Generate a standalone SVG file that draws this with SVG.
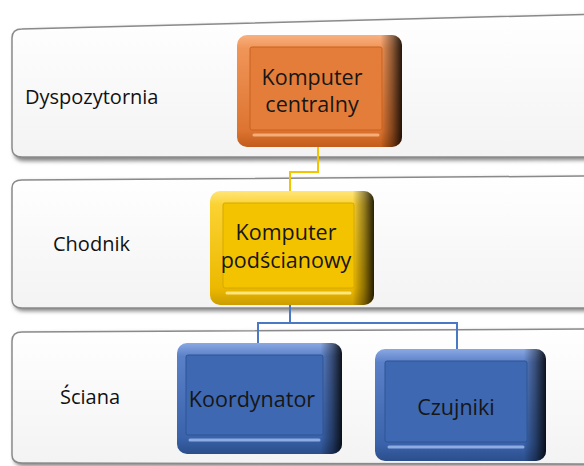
<svg xmlns="http://www.w3.org/2000/svg" width="584" height="466" viewBox="0 0 584 466">
<defs>
<linearGradient id="bandG" x1="0" y1="0" x2="0" y2="1">
<stop offset="0" stop-color="#ffffff"/>
<stop offset="1" stop-color="#f3f3f3"/>
</linearGradient>
<linearGradient id="orOut" x1="0" y1="0" x2="0" y2="1">
<stop offset="0" stop-color="#f8b080"/>
<stop offset="0.12" stop-color="#f09558"/>
<stop offset="0.85" stop-color="#dd7431"/>
<stop offset="1" stop-color="#c25c1c"/>
</linearGradient>
<linearGradient id="yeOut" x1="0" y1="0" x2="0" y2="1">
<stop offset="0" stop-color="#ffe57a"/>
<stop offset="0.12" stop-color="#fbd232"/>
<stop offset="0.85" stop-color="#ecb900"/>
<stop offset="1" stop-color="#cc9d00"/>
</linearGradient>
<linearGradient id="blOut" x1="0" y1="0" x2="0" y2="1">
<stop offset="0" stop-color="#8aa8e2"/>
<stop offset="0.12" stop-color="#5a80c8"/>
<stop offset="0.85" stop-color="#3a63ab"/>
<stop offset="1" stop-color="#2b4e8b"/>
</linearGradient>
<linearGradient id="rDark" x1="0" y1="0" x2="1" y2="0">
<stop offset="0" stop-color="#000" stop-opacity="0"/>
<stop offset="0.87" stop-color="#000" stop-opacity="0"/>
<stop offset="0.94" stop-color="#000" stop-opacity="0.4"/>
<stop offset="1" stop-color="#000" stop-opacity="0.85"/>
</linearGradient>
<filter id="sh" x="-10%" y="-10%" width="130%" height="130%">
<feGaussianBlur stdDeviation="2"/>
</filter>
</defs>
<style>
.band{fill:url(#bandG);stroke:#8a8a8a;stroke-width:1.5}
.bandsh{fill:#7f7f7f;filter:url(#sh)}
.lbl{font-family:"Open Sans","Liberation Sans",sans-serif;font-size:20px;fill:#111}
.nt{font-family:"Open Sans","Liberation Sans",sans-serif;font-size:21.5px;fill:#161616;text-anchor:middle}
.rd{fill:url(#rDark)}
.orIn{fill:#e57d3a;stroke:#c9631f;stroke-width:1}
.yeIn{fill:#f4c300;stroke:#d6a800;stroke-width:1}
.blIn{fill:#3e68b2;stroke:#2e5495;stroke-width:1}
.hl{stroke-width:3;fill:none;stroke-linecap:round}
.conY{fill:none;stroke:#f2c500;stroke-width:2}
.conB{fill:none;stroke:#4a78c2;stroke-width:2}
</style>

<g id="band-dyspozytornia">
<path class="bandsh" d="M14 40 Q14 31 24 31 L600 16 L600 160 L24 161 Q14 161 14 152 Z"/>
<path class="band" d="M12 38 Q12 29 22 29 L600 14 L600 157 L22 157 Q12 157 12 148 Z"/>
<text class="lbl" x="25" y="104">Dyspozytornia</text>
</g>
<g id="band-chodnik">
<path class="bandsh" d="M14 190 Q14 182 24 182 L600 178 L600 311 L24 311 Q14 311 14 302 Z"/>
<path class="band" d="M12 188 Q12 180 22 180 L600 176 L600 308 L22 308 Q12 308 12 299 Z"/>
<text class="lbl" x="53" y="251">Chodnik</text>
</g>
<g id="band-sciana">
<path class="bandsh" d="M14 343 Q14 334 24 334 L600 331 L600 466 L24 466 Q14 466 14 458 Z"/>
<path class="band" d="M12 341 Q12 332 22 332 L600 329 L600 464 L22 463 Q12 463 12 455 Z"/>
<text class="lbl" x="60" y="404">Ściana</text>
</g>

<g id="connectors">
<path class="conY" d="M318 147 V172 H290 V192"/>
<path class="conB" d="M290 305 V323 M258 345 V323 H457 V350"/>
</g>

<g id="node-komputer-centralny">
<rect x="237" y="35" width="165" height="112" rx="10" fill="url(#orOut)"/>
<rect class="rd" x="237" y="35" width="165" height="112" rx="10"/>
<rect class="orIn" x="250" y="47" width="132" height="83" rx="2"/>
<path class="hl" stroke="#f6ad78" d="M254 135 H378"/>
<text class="nt" x="312" y="85">Komputer</text>
<text class="nt" x="312" y="112">centralny</text>
</g>
<g id="node-komputer-podscianowy">
<rect x="210" y="191" width="164" height="114" rx="10" fill="url(#yeOut)"/>
<rect class="rd" x="210" y="191" width="164" height="114" rx="10"/>
<rect class="yeIn" x="223" y="203" width="131" height="85" rx="2"/>
<path class="hl" stroke="#ffe57a" d="M227 293 H350"/>
<text class="nt" x="286" y="240">Komputer</text>
<text class="nt" x="286" y="268">podścianowy</text>
</g>
<g id="node-koordynator">
<rect x="177" y="343" width="165" height="111" rx="10" fill="url(#blOut)"/>
<rect class="rd" x="177" y="343" width="165" height="111" rx="10"/>
<rect class="blIn" x="186" y="355" width="137" height="80" rx="2"/>
<path class="hl" stroke="#8eabe2" d="M190 440 H319"/>
<text class="nt" x="252" y="407">Koordynator</text>
</g>
<g id="node-czujniki">
<rect x="375" y="349" width="171" height="112" rx="10" fill="url(#blOut)"/>
<rect class="rd" x="375" y="349" width="171" height="112" rx="10"/>
<rect class="blIn" x="385" y="361" width="142" height="81" rx="2"/>
<path class="hl" stroke="#8eabe2" d="M389 447 H523"/>
<text class="nt" x="456" y="415">Czujniki</text>
</g>
</svg>
